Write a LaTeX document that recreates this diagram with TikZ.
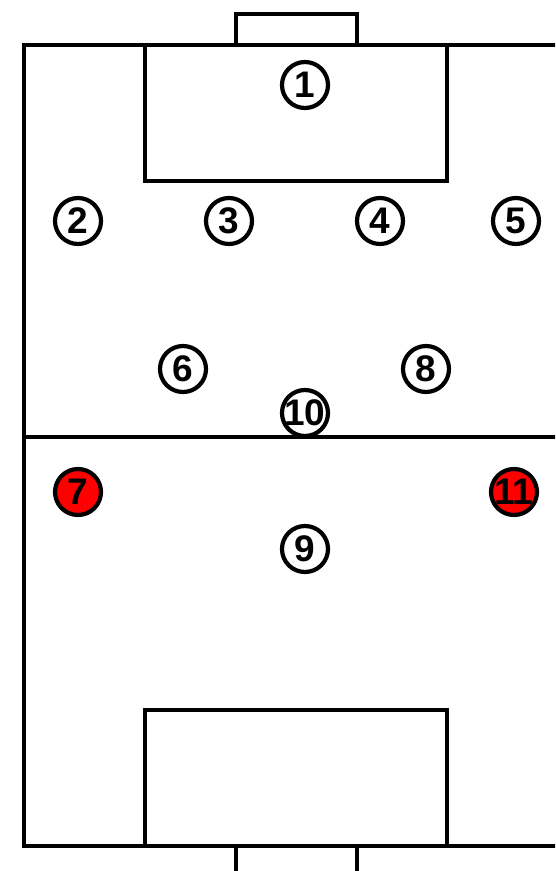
\documentclass[tikz,border=0pt]{standalone}
\usepackage{fontspec}
\setsansfont{Liberation Sans}

\begin{document}
\begin{tikzpicture}[x=1pt, y=-1pt, line width=4.5pt,
    player/.style={circle, draw, line width=4.2pt, fill=white, minimum size=46pt,
      inner sep=-8pt, font=\sffamily\bfseries\fontsize{37}{37}\selectfont},
    keyplayer/.style={player, fill=red}]
  \useasboundingbox (0,0) rectangle (555,871);
  \clip (0,0) rectangle (555,871);
  % Pitch and halfway line
  \draw (24,45) rectangle (568,846);
  \draw (24,437) -- (568,437);
  % Goals and penalty boxes
  \draw (236,45) -- (236,14) -- (357,14) -- (357,45);
  \draw (145,45) rectangle (447,181);
  \draw (145,710) rectangle (447,846);
  \draw (236,846) -- (236,880) -- (357,880) -- (357,846);
  % Players
  \foreach \n/\x/\y in {1/305/85, 2/78/221, 3/229/221, 4/380/221, 5/516/221,
                        6/183/369, 8/426/369, 10/305/413, 9/305/549}{
    \node[player] (p\n) at (\x,\y) {\n};
  }
  \node[keyplayer] (p7) at (78,492) {7};
  \node[keyplayer] (p11) at (514,492) {11};
\end{tikzpicture}
\end{document}
